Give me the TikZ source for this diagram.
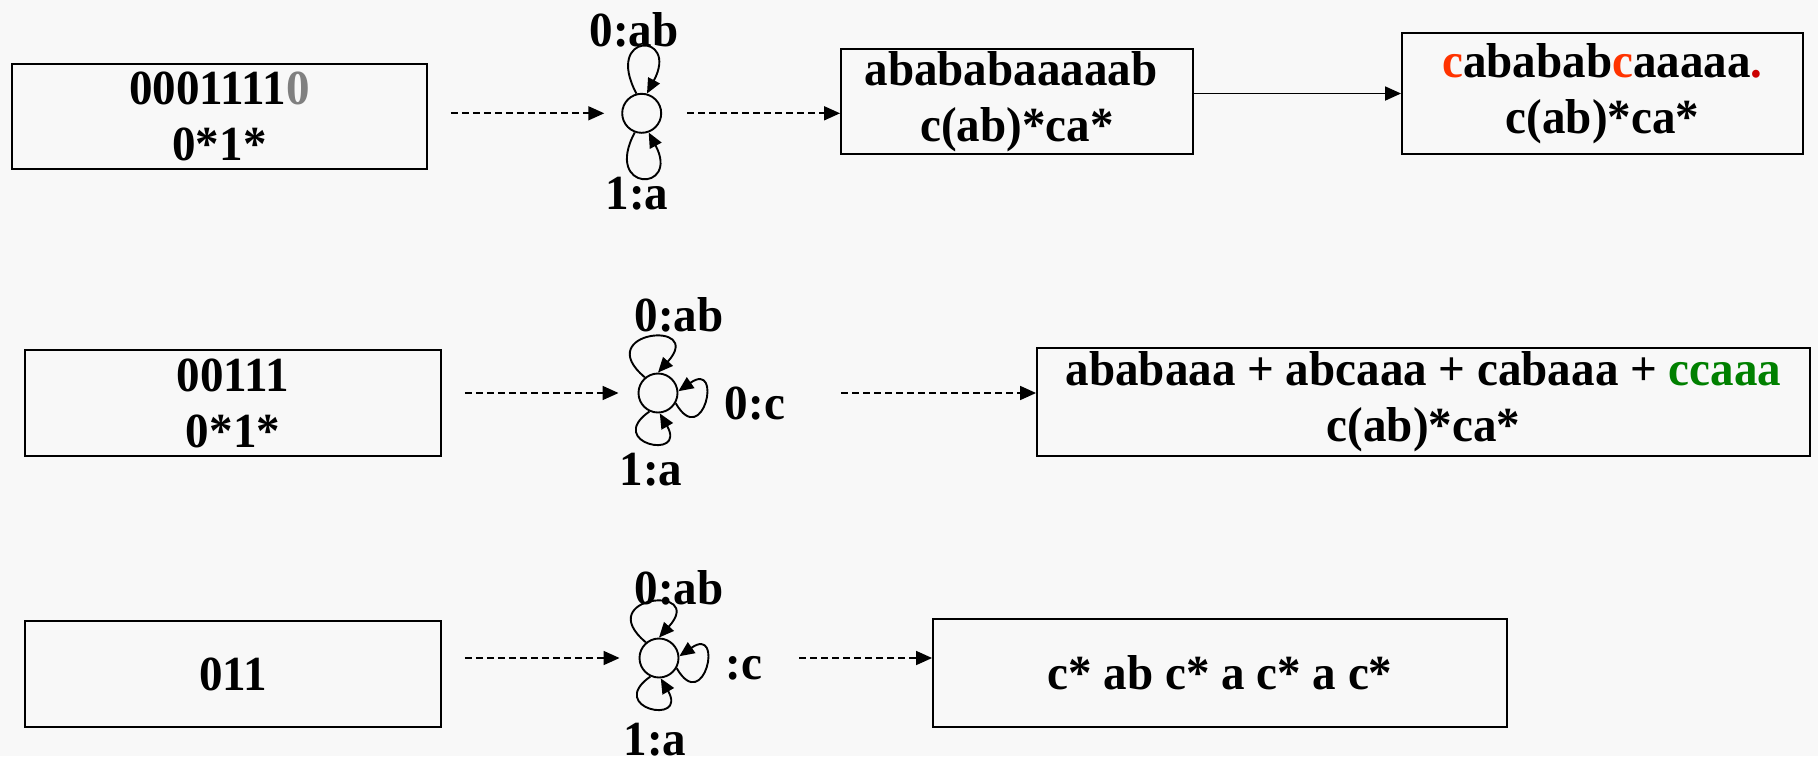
\documentclass[tikz,border=0pt]{standalone}
\usepackage{fontspec}
\setmainfont{Liberation Serif}[FakeStretch=0.96]
\usetikzlibrary{arrows.meta,positioning}
\definecolor{bgcol}{RGB}{248,248,248}
\definecolor{redc}{RGB}{255,51,0}
\definecolor{reddot}{RGB}{204,0,0}
\definecolor{grn}{RGB}{0,128,0}
\definecolor{gryz}{RGB}{128,128,128}

\begin{document}
\begin{tikzpicture}[x=1pt, y=1pt,
          every node/.style={font=\fontsize{49}{56}\selectfont\bfseries},
          box/.style={draw, line width=1.9pt, align=center, inner sep=0pt},
          st/.style={circle, draw, line width=1.9pt, minimum size=39pt, inner sep=0pt},
          feed/.style={-{Triangle[length=16pt,width=14pt]}, line width=1.7pt, dash pattern=on 7pt off 4pt},
          pass/.style={-{Triangle[length=16pt,width=14pt]}, line width=1.8pt},
          selfloop/.style={-{Triangle[length=15pt,width=13pt]}, line width=1.9pt, looseness=1}
      ]
        \useasboundingbox[fill=bgcol] (0,0) rectangle (1818,-756);

        \node[box, minimum width=415pt, minimum height=105pt] (a1) at (219.5,-116.5) {0001111\textcolor{gryz}{0}\\0*1*};
        \node[st] (q1) at (641.7,-113.3) {};
        \node (l1ab) at (634,-30)  {0:ab};
        \node (l1a)  at (637,-194) {1:a};
        \node[box, minimum width=352pt, minimum height=105pt] (b1) at (1017,-101.5) {abababaaaaab\hspace*{0.25em}\\c(ab)*ca*};
        \node[box, minimum width=401pt, minimum height=121pt] (c1) at (1602.5,-93.5) {\textcolor{redc}{c}ababab\textcolor{redc}{c}aaaaa\textcolor{reddot}{.}\\c(ab)*ca*};

        \node[box, minimum width=416pt, minimum height=106pt] (a2) at (233,-403) {00111\\0*1*};
        \node[st] (q2) at (658,-393) {};
        \node (l2ab) at (679,-315) {0:ab};
        \node (l2c)  at (755,-404) {0:c};
        \node (l2a)  at (651,-470) {1:a};
        \node[box, minimum width=773pt, minimum height=108pt] (b2) at (1423.5,-402) {ababaaa + abcaaa + cabaaa + \textcolor{grn}{ccaaa}\\c(ab)*ca*};

        \node[box, minimum width=416pt, minimum height=106pt] (a3) at (233,-674) {011};
        \node[st] (q3) at (659,-658) {};
        \node (l3ab) at (679,-588) {0:ab};
        \node (l3c)  at (744,-668) {:c};
        \node (l3a)  at (655,-740) {1:a};
        \node[box, minimum width=574pt, minimum height=108pt] (b3) at (1220,-673) {c* ab c* a c* a c*};

        \draw[feed, shorten <=23pt, shorten >=17pt] (a1.east |- q1) -- (q1.west);
        \draw[feed, shorten <=25pt] (q1.east) -- (q1.east -| b1.west);
        \draw[pass] (b1.east |- c1.west) -- (c1.west);
        \draw[feed, shorten <=23pt, shorten >=19pt] (a2.east |- q2) -- (q2.west);
        \draw[feed, shorten <=163pt] (q2.east) -- (q2.east -| b2.west);
        \draw[feed, shorten <=23pt, shorten >=19pt] (a3.east |- q3) -- (q3.west);
        \draw[feed, shorten <=120pt] (q3.east) -- (q3.east -| b3.west);

        \draw[selfloop] (q1.105)  to[out=118, in=62, min distance=70pt]   (q1.75);
        \draw[selfloop] (q1.-110) to[out=-118, in=-62, min distance=68pt] (q1.-70);
        \foreach \q in {q2,q3} {
          \draw[selfloop] (\q.130)  to[out=140, in=48, min distance=72pt]   (\q.90);
          \draw[selfloop] (\q.-30)  to[out=-60, in=35, min distance=55pt]   (\q.5);
          \draw[selfloop] (\q.-115) to[out=-145, in=-60, min distance=55pt] (\q.-85);
        }
      \end{tikzpicture}
\end{document}
